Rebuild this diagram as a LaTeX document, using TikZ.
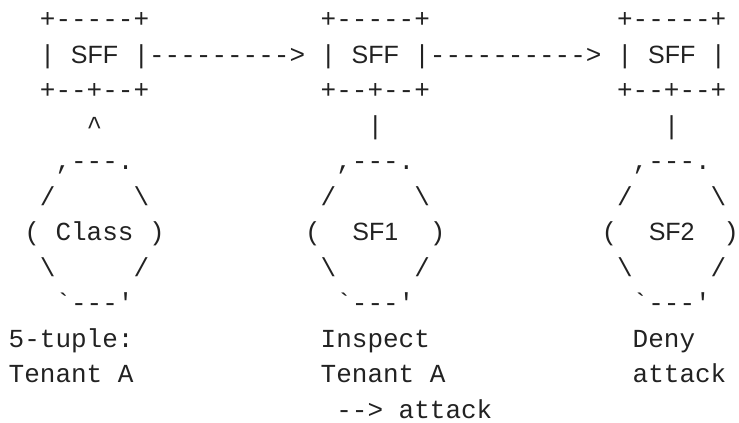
\documentclass[tikz,border=0pt]{standalone}
\usepackage{fontspec}
\setmonofont{Liberation Mono}
\newfontfamily\labfont{Liberation Sans}
\definecolor{ink}{RGB}{34,34,34}
\tikzset{
  tok/.style={anchor=base west, inner sep=0pt, outer sep=0pt, text=ink,
    font=\ttfamily\fontsize{26}{26}\selectfont},
  lab/.style={anchor=base, inner sep=0pt, outer sep=0pt, text=ink,
    font=\labfont\fontsize{25}{25}\selectfont}
}
% #1 name, #2 row, #3 column, #4 text
\newcommand\tok[4]{\node[tok] (#1) at ({8.7+15.6*#3},{27.5+35.5*(#2-1)}) {#4};}
% label centred on a column
\newcommand\lab[4]{\node[lab] (#1) at ({8.7+15.6*#3+7.8},{27.5+35.5*(#2-1)}) {#4};}
\newcommand\bs{\textbackslash}
\begin{document}
\begin{tikzpicture}[x=1pt,y=-1pt]
\useasboundingbox (0,0) rectangle (739,423);
% row 1
\tok{aTop}{1}{2}{+-----+}
\tok{bTop}{1}{20}{+-----+}
\tok{cTop}{1}{39}{+-----+}
% row 2
\tok{aL}{2}{2}{|}
\lab{sffA}{2}{5}{SFF}
\tok{arrAB}{2}{8}{|--------->}
\tok{bL}{2}{20}{|}
\lab{sffB}{2}{23}{SFF}
\tok{arrBC}{2}{26}{|---------->}
\tok{cL}{2}{39}{|}
\lab{sffC}{2}{42}{SFF}
\tok{cR}{2}{45}{|}
% row 3
\tok{aBot}{3}{2}{+--+--+}
\tok{bBot}{3}{20}{+--+--+}
\tok{cBot}{3}{39}{+--+--+}
% row 4
\tok{aUp}{4}{5}{\textasciicircum}
\tok{bDown}{4}{23}{|}
\tok{cDown}{4}{42}{|}
% row 5
\tok{aHex1}{5}{3}{,---.}
\tok{bHex1}{5}{21}{,---.}
\tok{cHex1}{5}{40}{,---.}
% row 6
\tok{aHex2l}{6}{2}{/}
\tok{aHex2r}{6}{8}{\bs}
\tok{bHex2l}{6}{20}{/}
\tok{bHex2r}{6}{26}{\bs}
\tok{cHex2l}{6}{39}{/}
\tok{cHex2r}{6}{45}{\bs}
% row 7
\tok{aHex3l}{7}{1}{(}
\tok{class}{7}{3}{Class}
\tok{aHex3r}{7}{9}{)}
\tok{bHex3l}{7}{19}{(}
\lab{sfone}{7}{23}{SF1}
\tok{bHex3r}{7}{27}{)}
\tok{cHex3l}{7}{38}{(}
\lab{sftwo}{7}{42}{SF2}
\node[tok, anchor=base east] (cHex3r) at (739,{27.5+35.5*6}) {)};
% row 8
\tok{aHex4l}{8}{2}{\bs}
\tok{aHex4r}{8}{8}{/}
\tok{bHex4l}{8}{20}{\bs}
\tok{bHex4r}{8}{26}{/}
\tok{cHex4l}{8}{39}{\bs}
\tok{cHex4r}{8}{45}{/}
% row 9
\tok{aHex5}{9}{3}{\textasciigrave---\textquotesingle}
\tok{bHex5}{9}{21}{\textasciigrave---\textquotesingle}
\tok{cHex5}{9}{40}{\textasciigrave---\textquotesingle}
% rows 10-12
\tok{aTxt1}{10}{0}{5-tuple:}
\tok{bTxt1}{10}{20}{Inspect}
\tok{cTxt1}{10}{40}{Deny}
\tok{aTxt2}{11}{0}{Tenant A}
\tok{bTxt2}{11}{20}{Tenant A}
\tok{cTxt2}{11}{40}{attack}
\tok{bTxt3}{12}{21}{--> attack}
\end{tikzpicture}
\end{document}
